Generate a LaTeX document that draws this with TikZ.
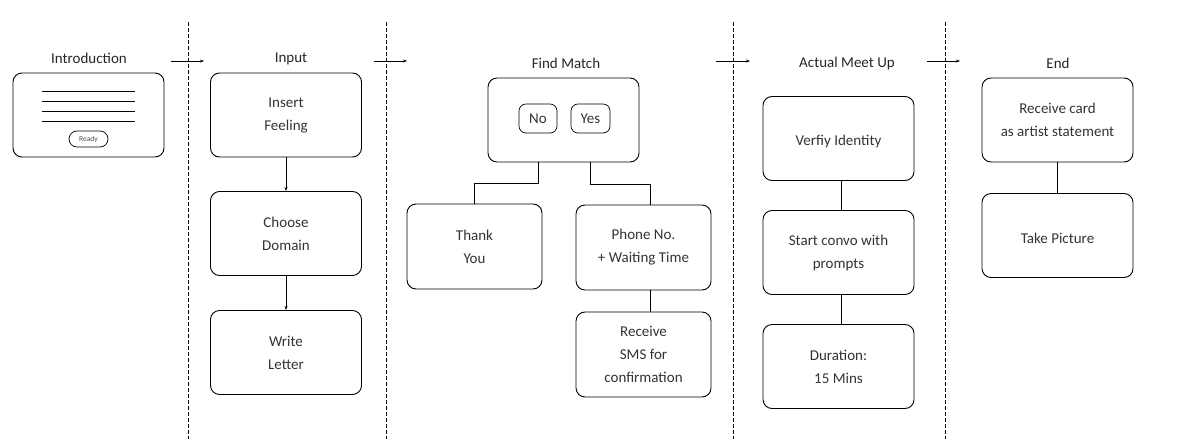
\documentclass[tikz,border=0pt]{standalone}
\usepackage{fontspec}
\setmainfont{Carlito}
\usetikzlibrary{arrows.meta}
\begin{document}
\begin{tikzpicture}[x=1pt,y=-1pt,
  box/.style={draw, rounded corners=9pt, line width=0.9pt, minimum width=151pt, minimum height=84pt, inner sep=0pt, align=center, font=\fontsize{15}{23}\selectfont, text=black!80, execute at begin node={\rule{0pt}{15.5pt}}},
  pill/.style={draw, rounded corners=7pt, line width=0.7pt, inner sep=0pt, font=\fontsize{15}{16}\selectfont, text=black!80},
  title/.style={font=\fontsize{15}{16}\selectfont, text=black!85},
  conn/.style={line width=0.9pt},
  arr/.style={line width=0.8pt, -{Stealth[length=4pt,width=3pt]}},
  sep/.style={line width=0.7pt, dash pattern=on 4pt off 2pt}]
\useasboundingbox (0,0) rectangle (1190,439);
% separators
\foreach \x in {188,386,733,945} \draw[sep] (\x,22) -- (\x,439);
% titles
\node[title] (tIntro) at (89,58.5) {Introduction};
\node[title] (tInput) at (291,58.5) {Input};
\node[title] (tMatch) at (566,63) {Find Match};
\node[title] (tMeet) at (847,63) {Actual Meet Up};
\node[title] (tEnd) at (1058,63) {End};
% column arrows
\coordinate (a1s) at (171,61); \coordinate (a1e) at (204,61);
\coordinate (a2s) at (374,61); \coordinate (a2e) at (407,61);
\coordinate (a3s) at (716,61); \coordinate (a3e) at (750,61);
\coordinate (a4s) at (927,61); \coordinate (a4e) at (960,61);
\draw[arr] (a1s) -- (a1e);
\draw[arr] (a2s) -- (a2e);
\draw[arr] (a3s) -- (a3e);
\draw[arr] (a4s) -- (a4e);
% introduction
\node[box] (intro) at (88.5,115) {};
\foreach \y in {91,101,111,121} \draw[line width=0.8pt] (42,\y) -- (135,\y);
\node[pill, rounded corners=8pt, minimum width=39pt, minimum height=16pt, font=\fontsize{7.5}{9}\selectfont, text=black!70] (ready) at (88.5,139) {Ready};
% input
\node[box] (feel) at (286,115) {Insert\\Feeling};
\node[box] (domain) at (286,233.5) {Choose\\Domain};
\node[box] (letter) at (286,352.5) {Write\\Letter};
\draw[arr] (feel) -- (domain);
\draw[arr] (domain) -- (letter);
% find match
\node[box] (match) at (563.5,120) {};
\node[pill, minimum width=38pt, minimum height=29pt] (no) at (538,118.5) {No};
\node[pill, minimum width=39pt, minimum height=29pt] (yes) at (590.5,118.5) {Yes};
\node[box, minimum width=135pt, minimum height=85pt] (thank) at (474.5,246.5) {Thank\\You};
\node[box, minimum width=135pt, minimum height=85pt] (phone) at (643.5,247.5) {Phone No.\\+ Waiting Time};
\node[box, minimum width=135pt, minimum height=85pt] (sms) at (643.5,354.5) {Receive\\SMS for\\confirmation};
\draw[conn] (no |- match.south) -- ++(0,21) -| (thank.north);
\draw[conn] (yes |- match.south) -- ++(0,22) -| ([xshift=6.5pt]phone.north);
\draw[conn] ([xshift=6.5pt]phone.south) -- ([xshift=6.5pt]sms.north);
% actual meet up
\node[box] (verify) at (838.5,138.5) {Verfiy Identity};
\node[box] (convo) at (838.5,252.5) {Start convo with\\prompts};
\node[box] (dur) at (838.5,366.5) {Duration:\\15 Mins};
\draw[conn] ([xshift=2.5pt]verify.south) -- ([xshift=2.5pt]convo.north);
\draw[conn] ([xshift=2.5pt]convo.south) -- ([xshift=2.5pt]dur.north);
% end
\node[box] (card) at (1057.5,120) {Receive card\\as artist statement};
\node[box] (pic) at (1057.5,235.5) {Take Picture};
\draw[conn] (card) -- (pic);
\end{tikzpicture}
\end{document}
